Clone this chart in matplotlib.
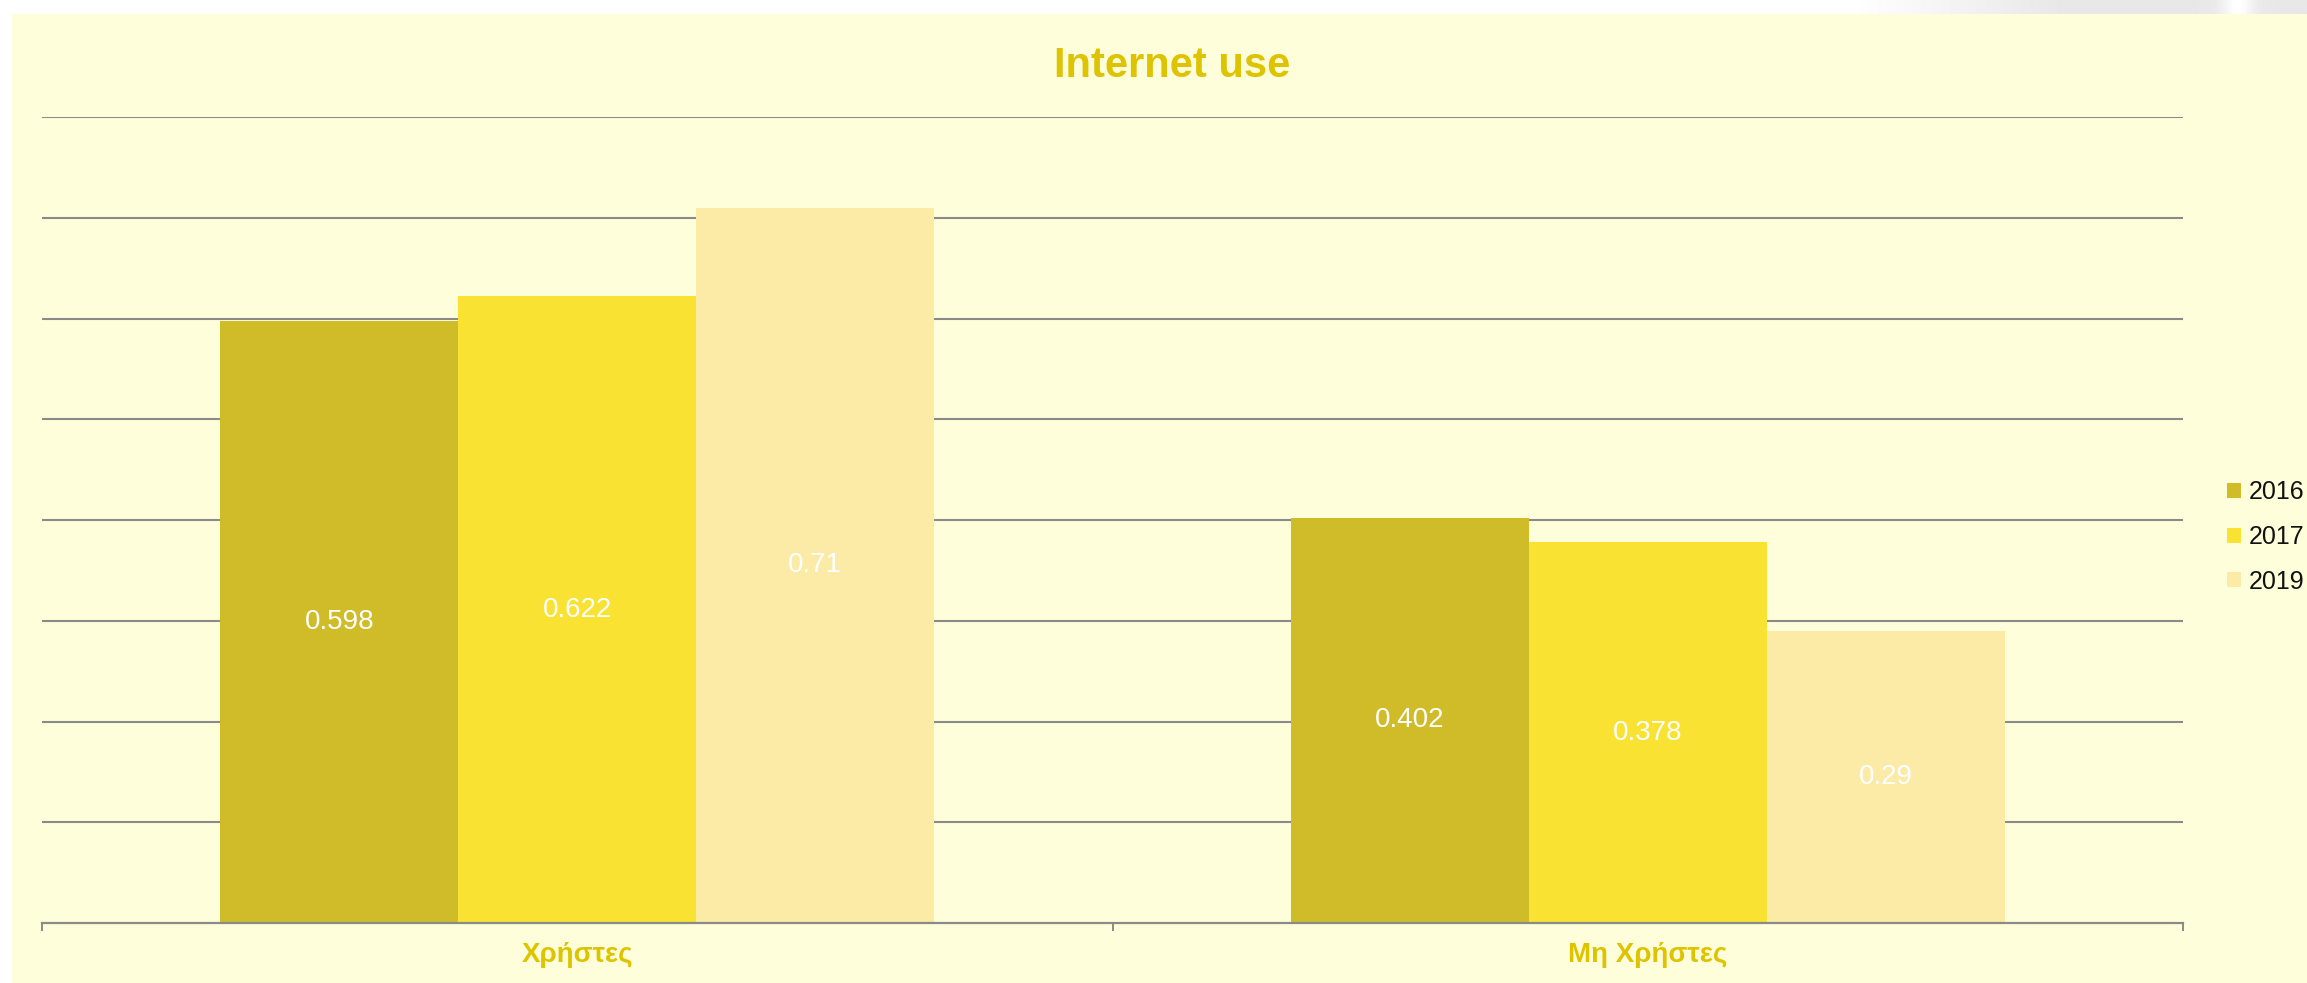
import numpy as np
import matplotlib.pyplot as plt
from matplotlib.patches import Rectangle

# internet use shares per year
categories = ['Χρήστες', 'Μη Χρήστες']
years = ['2016', '2017', '2019']
values_2016 = [0.598, 0.402]
values_2017 = [0.622, 0.378]
values_2019 = [0.71, 0.29]

colors = ['#D0BB29', '#F9E232', '#FCEBA6']
cream = '#FFFEDB'
gold = '#DDC300'
grid_grey = '#8A8A8A'

plt.rcParams['font.family'] = ['Liberation Sans', 'DejaVu Sans']

W, H = 2307, 983
fig = plt.figure(figsize=(W / 100, H / 100), dpi=100)
fig.patch.set_facecolor('white')

# cream chart area, leaving a thin white margin on the left and top
fig.patches.append(Rectangle((12 / W, 0), 1 - 12 / W, 1 - 14 / H,
                             transform=fig.transFigure, facecolor=cream,
                             edgecolor='none', zorder=-10))

# grey strip along the top right with a light streak
strip = fig.add_axes([1850 / W, 1 - 14 / H, 1 - 1850 / W, 14 / H])
xs = np.linspace(0, 1, 400)
shade = np.clip(xs * 2.2, 0, 1) * 0.09
streak = np.exp(-((xs - 0.85) / 0.035) ** 2) * 0.09
tone = 1 - np.clip(shade - streak, 0, 1)
strip.imshow(np.tile(tone, (2, 1)), cmap='gray', vmin=0, vmax=1,
             aspect='auto', interpolation='bilinear')
strip.axis('off')

ax = fig.add_axes([42 / W, 1 - 923 / H, (2183 - 42) / W, (923 - 117) / H])
ax.set_facecolor('none')

x = np.arange(len(categories))
width = 1 / 4.5
series = [values_2016, values_2017, values_2019]
for i, (vals, year, col) in enumerate(zip(series, years, colors)):
    bars = ax.bar(x + (i - 1) * width, vals, width, color=col, label=year, zorder=3)
    ax.bar_label(bars, fmt='%g', label_type='center', color='white', fontsize=20)

ax.set_xlim(-0.5, len(categories) - 0.5)
ax.set_ylim(0, 0.8)
ax.set_yticks(np.arange(0.1, 0.81, 0.1))
ax.yaxis.grid(True, color=grid_grey, linewidth=1.5, zorder=1)
ax.tick_params(axis='y', left=False, labelleft=False)

for side in ['top', 'right', 'left']:
    ax.spines[side].set_visible(False)
ax.spines['bottom'].set_color(grid_grey)
ax.spines['bottom'].set_linewidth(1.6)
ax.spines['bottom'].set_zorder(4)

# tick marks at the category boundaries, names centred between them
ax.set_xticks(np.arange(-0.5, len(categories)), labels=[''] * (len(categories) + 1))
ax.tick_params(axis='x', which='major', length=6, width=1.4, color=grid_grey)
ax.set_xticks(x, labels=categories, minor=True)
ax.tick_params(axis='x', which='minor', length=0, pad=14, labelsize=20,
               labelcolor=gold)
for lbl in ax.get_xticklabels(minor=True):
    lbl.set_fontweight('bold')

fig.text(1172 / W, 1 - 66 / H, 'Internet use', ha='center', va='center',
         fontsize=30, fontweight='bold', color=gold)

fig.legend(loc='center left', bbox_to_anchor=(2227 / W, 1 - 537 / H),
           frameon=False, fontsize=18, handlelength=0.55, handleheight=0.55,
           handletextpad=0.3, labelspacing=0.83, borderpad=0, borderaxespad=0,
           labelcolor='#111111')

fig.savefig('out.png', dpi=100, facecolor=fig.get_facecolor())
